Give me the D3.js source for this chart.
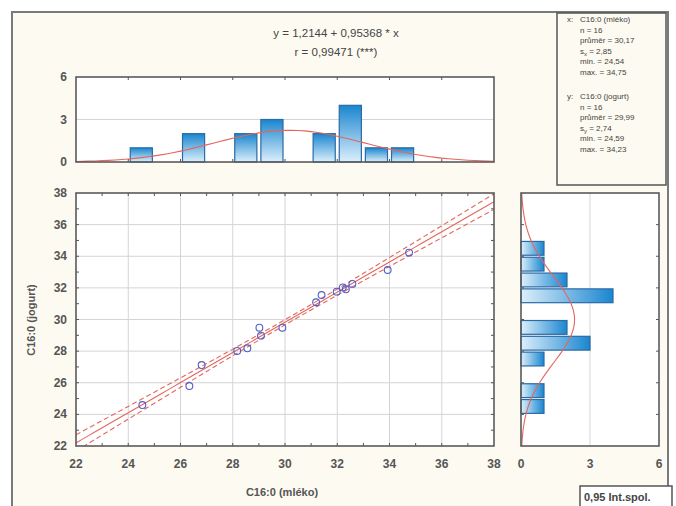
<!DOCTYPE html>
<html><head><meta charset="utf-8">
<script src="https://cdn.jsdelivr.net/npm/d3@7"></script>
<style>body{margin:0;background:#fff;} svg{display:block;font-family:"Liberation Sans",Arial,sans-serif;}</style>
</head><body>
<script>
// ---- data ----
const xVals = [24.54,26.34,26.81,28.17,28.56,29.02,29.08,29.90,31.19,31.40,31.98,32.21,32.33,32.58,33.93,34.75];
const yVals = [24.59,25.79,27.12,28.01,28.18,29.48,28.98,29.48,31.09,31.55,31.76,32.03,31.91,32.25,33.13,34.23];
const binStarts = [24,25,26,27,28,29,30,31,32,33,34];
const xBinCounts = [1,0,2,0,2,3,0,2,4,1,1];
const yBinCounts = [1,1,0,1,3,2,0,4,2,1,1];
const axisTicks = [22,24,26,28,30,32,34,36,38];
const histTicks = [0,3,6];
const intercept = 1.2144, slope = 0.95368;
const statsX = {name:"C16:0 (mléko)", n:16, mean:30.17, sd:2.85, min:24.54, max:34.75};
const statsY = {name:"C16:0 (jogurt)", n:16, mean:29.99, sd:2.74, min:24.59, max:34.23};
const titleLines = ["y = 1,2144 + 0,95368 * x", "r = 0,99471 (***)"];

const W=676,H=506;
const svg=d3.select("body").append("svg").attr("width",W).attr("height",H);
const defs=svg.append("defs");
const gv=defs.append("linearGradient").attr("id","gv").attr("x1",0).attr("y1",0).attr("x2",0).attr("y2",1);
gv.append("stop").attr("offset",0).attr("stop-color","#1a86cf");
gv.append("stop").attr("offset",1).attr("stop-color","#dceffb");
const gh=defs.append("linearGradient").attr("id","gh").attr("x1",0).attr("y1",0).attr("x2",1).attr("y2",0);
gh.append("stop").attr("offset",0).attr("stop-color","#dceffb");
gh.append("stop").attr("offset",1).attr("stop-color","#1a86cf");

// background + outer frame
svg.append("rect").attr("x",12).attr("y",12).attr("width",656).attr("height",500).attr("fill","#fdfaf1").attr("stroke","#7a7a7a").attr("stroke-width",2);

const X0=76,X1=494,Y0=193,Y1=446;
const x=d3.scaleLinear().domain([22,38]).range([X0,X1]);
const y=d3.scaleLinear().domain([22,38]).range([Y1,Y0]);
const tickCol="#555", gridCol="#d4d4d4", frameCol="#5a5a5a", red="#e4665c";
const lab={fill:"#555","font-weight":"bold","font-size":"12px"};
function st(sel,o){for(const k in o)sel.attr(k,o[k]);return sel;}

// ---- main plot ----
const gm=svg.append("g");
gm.append("rect").attr("x",X0).attr("y",Y0).attr("width",X1-X0).attr("height",Y1-Y0).attr("fill","#fff");
gm.selectAll("line.gx").data(axisTicks.slice(1,-1)).join("line").attr("x1",d=>x(d)).attr("x2",d=>x(d)).attr("y1",Y0).attr("y2",Y1).attr("stroke",gridCol);
gm.selectAll("line.gy").data(axisTicks.slice(1,-1)).join("line").attr("y1",d=>y(d)).attr("y2",d=>y(d)).attr("x1",X0).attr("x2",X1).attr("stroke",gridCol);
const minor=d3.range(23,38,1);
gm.selectAll("line.tb").data(minor).join("line").attr("x1",d=>x(d)).attr("x2",d=>x(d)).attr("y1",Y1).attr("y2",Y1-3).attr("stroke",tickCol);
gm.selectAll("line.tt").data(minor).join("line").attr("x1",d=>x(d)).attr("x2",d=>x(d)).attr("y1",Y0).attr("y2",Y0+3).attr("stroke",tickCol);
gm.selectAll("line.tl").data(minor).join("line").attr("y1",d=>y(d)).attr("y2",d=>y(d)).attr("x1",X0).attr("x2",X0+3).attr("stroke",tickCol);
gm.selectAll("line.tr").data(minor).join("line").attr("y1",d=>y(d)).attr("y2",d=>y(d)).attr("x1",X1).attr("x2",X1-3).attr("stroke",tickCol);

// regression & confidence band
const n=xVals.length, mx=d3.mean(xVals);
const sxx=d3.sum(xVals,v=>(v-mx)**2);
const sse=d3.sum(xVals.map((v,i)=>(yVals[i]-(intercept+slope*v))**2));
const s=Math.sqrt(sse/(n-2)), t=2.145;
const xs=d3.range(22,38.001,0.25);
defs.append("clipPath").attr("id","cm").append("rect").attr("x",X0).attr("y",Y0).attr("width",X1-X0).attr("height",Y1-Y0);
const lg=gm.append("g").attr("clip-path","url(#cm)");
const line=d3.line().x(d=>x(d[0])).y(d=>y(d[1]));
const band=k=>xs.map(v=>[v,intercept+slope*v+k*t*s*Math.sqrt(1/n+(v-mx)**2/sxx)]);
lg.append("path").attr("d",line(band(0))).attr("fill","none").attr("stroke",red).attr("stroke-width",1.1);
lg.append("path").attr("d",line(band(1))).attr("fill","none").attr("stroke",red).attr("stroke-width",1.1).attr("stroke-dasharray","5,3");
lg.append("path").attr("d",line(band(-1))).attr("fill","none").attr("stroke",red).attr("stroke-width",1.1).attr("stroke-dasharray","5,3");
gm.selectAll("circle").data(xVals).join("circle").attr("cx",d=>x(d)).attr("cy",(d,i)=>y(yVals[i])).attr("r",3.4).attr("fill","none").attr("stroke","#4f5fc8").attr("stroke-width",1.1);
gm.append("rect").attr("x",X0).attr("y",Y0).attr("width",X1-X0).attr("height",Y1-Y0).attr("fill","none").attr("stroke",frameCol).attr("stroke-width",1.6);
gm.selectAll("text.xl").data(axisTicks).join("text").attr("x",d=>x(d)).attr("y",468).attr("text-anchor","middle").text(d=>d).call(st,lab);
gm.selectAll("text.yl").data(axisTicks).join("text").attr("x",67).attr("y",d=>y(d)+4).attr("text-anchor","end").text(d=>d).call(st,lab);
svg.append("text").attr("x",282).attr("y",496).attr("text-anchor","middle").attr("font-size","11px").attr("fill","#555").attr("font-weight","bold").text("C16:0 (mléko)");
svg.append("text").attr("transform","translate(35,320) rotate(-90)").attr("text-anchor","middle").attr("font-size","11px").attr("fill","#555").attr("font-weight","bold").text("C16:0 (jogurt)");

// ---- top histogram ----
const HT0=77,HT1=162;
const hy=d3.scaleLinear().domain([0,6]).range([HT1,HT0]);
const gt=svg.append("g");
gt.append("rect").attr("x",X0).attr("y",HT0).attr("width",X1-X0).attr("height",HT1-HT0).attr("fill","#fff");
gt.append("line").attr("x1",X0).attr("x2",X1).attr("y1",hy(3)).attr("y2",hy(3)).attr("stroke",gridCol);
gt.selectAll("rect.b").data(binStarts.map((b,i)=>({b,c:xBinCounts[i]})).filter(d=>d.c>0)).join("rect")
  .attr("x",d=>x(d.b)+2).attr("width",d=>x(d.b+1)-x(d.b)-4).attr("y",d=>hy(d.c)).attr("height",d=>hy(0)-hy(d.c))
  .attr("fill","url(#gv)").attr("stroke","#2a6aa6").attr("stroke-width",1.2);
const pdfX=xs.map(v=>[v,statsX.n*1*Math.exp(-0.5*((v-statsX.mean)/statsX.sd)**2)/(statsX.sd*Math.sqrt(2*Math.PI))]);
gt.append("path").attr("d",d3.line().x(d=>x(d[0])).y(d=>hy(d[1]))(pdfX)).attr("fill","none").attr("stroke",red).attr("stroke-width",1.1);
const evenT=axisTicks.slice(1,-1);
gt.selectAll("line.t1").data(evenT).join("line").attr("x1",d=>x(d)).attr("x2",d=>x(d)).attr("y1",HT0).attr("y2",HT0+3).attr("stroke",tickCol);
gt.selectAll("line.t2").data(evenT).join("line").attr("x1",d=>x(d)).attr("x2",d=>x(d)).attr("y1",HT1).attr("y2",HT1-3).attr("stroke",tickCol);
gt.append("rect").attr("x",X0).attr("y",HT0).attr("width",X1-X0).attr("height",HT1-HT0).attr("fill","none").attr("stroke",frameCol).attr("stroke-width",1.6);
gt.selectAll("text").data(histTicks).join("text").attr("x",67).attr("y",d=>hy(d)+4).attr("text-anchor","end").text(d=>d).call(st,lab);

// ---- right histogram ----
const HR0=521,HR1=659;
const hx=d3.scaleLinear().domain([0,6]).range([HR0,HR1]);
const gr=svg.append("g");
gr.append("rect").attr("x",HR0).attr("y",Y0).attr("width",HR1-HR0).attr("height",Y1-Y0).attr("fill","#fff");
gr.append("line").attr("x1",hx(3)).attr("x2",hx(3)).attr("y1",Y0).attr("y2",Y1).attr("stroke",gridCol);
gr.selectAll("rect.b").data(binStarts.map((b,i)=>({b,c:yBinCounts[i]})).filter(d=>d.c>0)).join("rect")
  .attr("y",d=>y(d.b+1)+1).attr("height",d=>y(d.b)-y(d.b+1)-2).attr("x",hx(0)).attr("width",d=>hx(d.c)-hx(0))
  .attr("fill","url(#gh)").attr("stroke","#2a6aa6").attr("stroke-width",1.2);
const pdfY=xs.map(v=>[v,statsY.n*1*Math.exp(-0.5*((v-statsY.mean)/statsY.sd)**2)/(statsY.sd*Math.sqrt(2*Math.PI))]);
gr.append("path").attr("d",d3.line().y(d=>y(d[0])).x(d=>hx(d[1]))(pdfY)).attr("fill","none").attr("stroke",red).attr("stroke-width",1.1);
gr.selectAll("line.t1").data(evenT).join("line").attr("y1",d=>y(d)).attr("y2",d=>y(d)).attr("x1",HR0).attr("x2",HR0+3).attr("stroke",tickCol);
gr.selectAll("line.t2").data(evenT).join("line").attr("y1",d=>y(d)).attr("y2",d=>y(d)).attr("x1",HR1).attr("x2",HR1-3).attr("stroke",tickCol);
gr.append("rect").attr("x",HR0).attr("y",Y0).attr("width",HR1-HR0).attr("height",Y1-Y0).attr("fill","none").attr("stroke",frameCol).attr("stroke-width",1.6);
gr.selectAll("text").data(histTicks).join("text").attr("x",d=>hx(d)).attr("y",468).attr("text-anchor","middle").text(d=>d).call(st,lab);

// ---- title ----
svg.selectAll("text.title").data(titleLines).join("text").attr("x",336).attr("y",(d,i)=>37+i*19).attr("text-anchor","middle").attr("font-size","11.5px").attr("fill","#444").text(d=>d);

// ---- legend box ----
const lgb=svg.append("g");
lgb.append("rect").attr("x",557).attr("y",13).attr("width",109).attr("height",172).attr("fill","#fdfaf1").attr("stroke","#555").attr("stroke-width",1.5);
function fmt(v){return String(v.toFixed(2)).replace(".",",");}
function block(sx,letter,y0){
  const lines=[sx.name,"n = "+sx.n,"průměr = "+fmt(sx.mean),null,"min. = "+fmt(sx.min),"max. = "+fmt(sx.max)];
  const g=lgb.append("g").attr("font-size","8px").attr("fill","#444");
  g.append("text").attr("x",567).attr("y",y0).text(letter+":");
  lines.forEach((l,i)=>{
    const tx=g.append("text").attr("x",580).attr("y",y0+i*10.5);
    if(l===null){tx.text("s");tx.append("tspan").attr("font-size","6px").attr("dy",2).text(letter);tx.append("tspan").attr("dy",-2).text(" = "+fmt(sx.sd));}
    else tx.text(l);
  });
}
block(statsX,"x",22);
block(statsY,"y",99);

// ---- bottom-right box ----
svg.append("rect").attr("x",580).attr("y",486).attr("width",92).attr("height",24).attr("fill","#fff").attr("stroke","#555").attr("stroke-width",1.5);
svg.append("text").attr("x",584).attr("y",501).attr("font-size","11px").attr("font-weight","bold").attr("fill","#444").text("0,95 Int.spol.");
</script>
</body></html>
